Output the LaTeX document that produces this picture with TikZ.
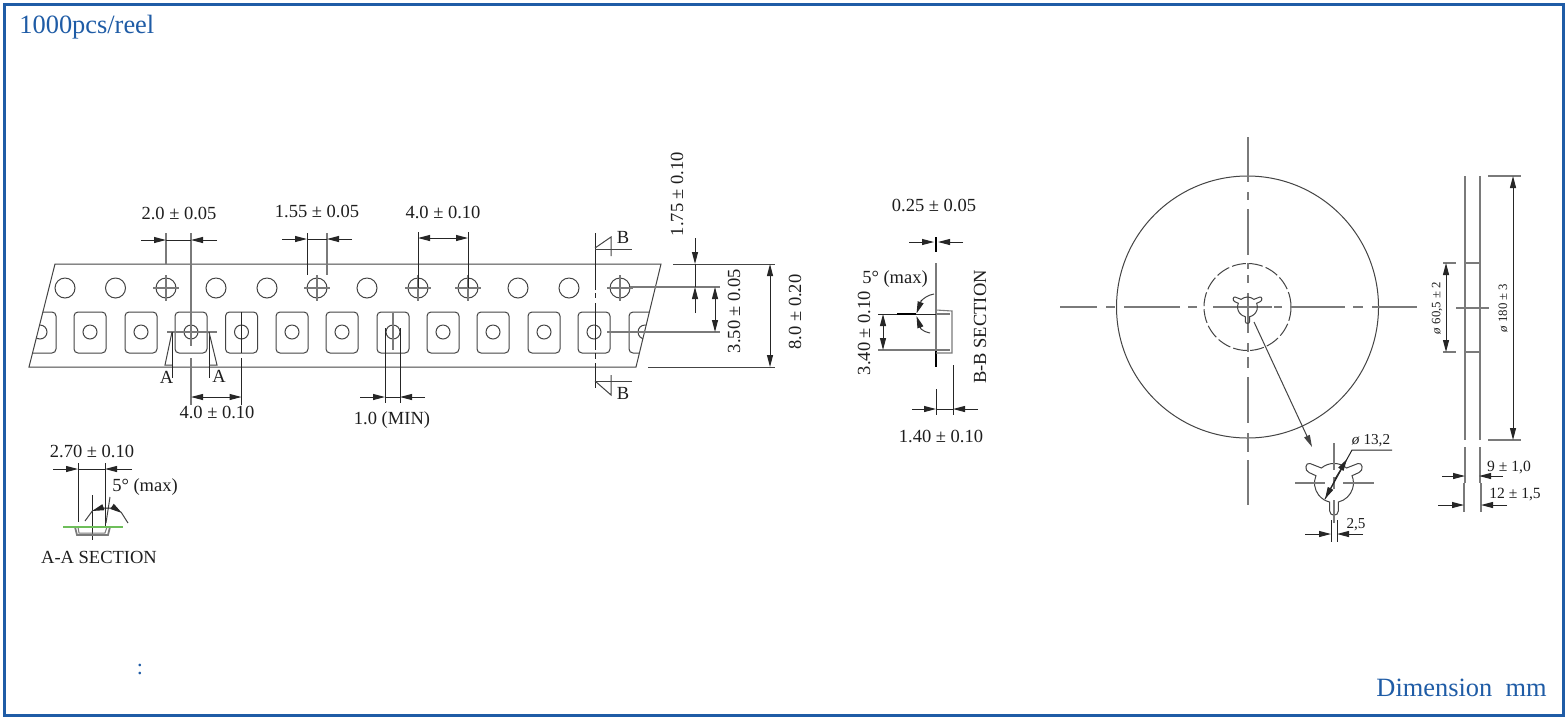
\documentclass[tikz,border=0pt]{standalone}
\usepackage{fontspec}
\setmainfont{Liberation Serif}
\usetikzlibrary{arrows.meta}
\definecolor{frameblue}{HTML}{1F5CA6}
\definecolor{inkgrey}{HTML}{444444}
\definecolor{midgrey}{HTML}{7A7A7A}
\definecolor{labelink}{HTML}{1E1E1E}
\newcommand\starshape{(4.3,19) arc (77:-22:19.5) -- (25,-10.5) .. controls (30,-12.5) and (28.5,-21) .. (24,-19.5) -- (12.5,-15) arc (-50:-130:19.5) -- (-24,-19.5) .. controls (-28.5,-21) and (-30,-12.5) .. (-25,-10.5) -- (-18.08,-7.3) arc (202:103:19.5) -- (-4.3,28) arc (180:0:4.3) -- cycle}
\tikzset{
  x=0.5pt,y=-0.5pt,
  thinl/.style={draw=inkgrey,line width=0.5pt},
  blackl/.style={draw=black!85,line width=0.5pt},
  greyl/.style={draw=midgrey,line width=0.55pt},
  thickgrey/.style={draw=midgrey,line width=1.3pt},
  tipto/.style={-{Triangle[length=6pt,width=3pt]},draw=black!85,line width=0.5pt},
  tipboth/.style={{Triangle[length=6pt,width=3pt]}-{Triangle[length=6pt,width=3pt]},draw=black!85,line width=0.5pt},
  lab/.style={font=\fontsize{9.25}{11}\selectfont,text=labelink,inner sep=0pt},
  labsm/.style={font=\fontsize{7.8}{9}\selectfont,text=labelink,inner sep=0pt},
  labxs/.style={font=\fontsize{6.4}{8}\selectfont,text=labelink,inner sep=0pt},
  bluetxt/.style={font=\fontsize{13.2}{15}\selectfont,text=frameblue,inner sep=0pt},
}
\begin{document}
\begin{tikzpicture}
\useasboundingbox (0,0) rectangle (1567,719);
\fill[white] (0,0) rectangle (1567,719);
\draw[frameblue,line width=1.5pt] (4,4) rectangle (1563,715);
\node[bluetxt,anchor=west] (title) at (19,27) {1000pcs/reel};
\node[bluetxt,anchor=east] (unit) at (1547,688) {Dimension\hspace{0.25em} mm};
\node[bluetxt,font=\fontsize{11}{13}\selectfont] (colon) at (140,669) {:};

% ---------- tape ----------
\draw[thinl] (55,264) -- (661,264) -- (636,367) -- (29,367) -- cycle;
\foreach \x in {65,115.5,166,216,267,317,367,418,468,518,569,620}
  \draw[thinl] (\x,288) circle (10);
\begin{scope}
  \clip (55,264) -- (661,264) -- (636,367) -- (29,367) -- cycle;
  \foreach \x in {40,90,141,191,241.5,292,342,393,443,493,544,594,645}{
    \draw[thinl,rounded corners=2pt] (\x-16,312) rectangle (\x+16,353);
    \draw[thinl] (\x,332) circle (7);
  }
\end{scope}
% sprocket centre marks
\foreach \x in {166,317,418,468,620}{
  \draw[greyl] (\x-13,288) -- (\x+13,288);
  \draw[greyl] (\x,275) -- (\x,301);
}
% dim 2.0
\draw[greyl] (166,233) -- (166,264);
\draw[greyl] (191,233) -- (191,320);
\draw[blackl] (166,240) -- (191,240);
\draw[tipto] (141,240) -- (166,240);
\draw[tipto] (217,240) -- (191,240);
\node[lab] (d20) at (179,213) {2.0 ± 0.05};
% dim 1.55
\draw[blackl] (307,233) -- (307,275);
\draw[greyl] (327,233) -- (327,275);
\draw[blackl] (307,239) -- (327,239);
\draw[tipto] (282,239) -- (307,239);
\draw[tipto] (352,239) -- (327,239);
\node[lab] (d155) at (317,211) {1.55 ± 0.05};
% dim 4.0 top
\draw[blackl] (418,232) -- (418,288);
\draw[blackl] (468,232) -- (468,288);
\draw[tipboth] (418,238) -- (468,238);
\node[lab] (d40t) at (443,212) {4.0 ± 0.10};
% pocket 191 + A-A
\draw[greyl] (167,332) -- (217,332);
\draw[greyl] (191,320) -- (191,346);
\draw[greyl] (191,358) -- (191,405);
\draw[blackl] (241.5,312) -- (241.5,353);
\draw[blackl] (241.5,358) -- (241.5,405);
\draw[tipboth] (191,397) -- (241.5,397);
\node[lab] (d40b) at (217,412) {4.0 ± 0.10};
\draw[blackl] (172,332) -- (172,378);
\draw[thinl] (172,332) -- (165,365) -- (172,365);
\draw[blackl] (209,332) -- (209,378);
\draw[thinl] (209,332) -- (217,365) -- (209,365);
\node[lab] (aL) at (166.5,377) {A};
\node[lab] (aR) at (219,376) {A};
% dim 1.0 MIN
\draw[greyl] (393,313) -- (393,350);
\draw[blackl] (385,328) -- (385,403);
\draw[blackl] (400,328) -- (400,403);
\draw[blackl] (385,397) -- (400,397);
\draw[tipto] (360,397) -- (385,397);
\draw[tipto] (425,397) -- (400,397);
\node[lab] (d10) at (392,420) {1.0 (MIN)};
% B-B cutting line
\foreach \a/\b in {233/290,293/298,303/350,353/359,363/388}
  \draw[blackl] (595,\a) -- (595,\b);
\draw[thinl] (595,248) -- (611,237) -- (611,256);
\draw[thinl] (595,249) -- (632,249);
\draw[thinl] (595,381) -- (632,381);
\draw[thinl] (611,375) -- (611,395) -- (595,381);
\node[lab] (bT) at (623,237) {B};
\node[lab] (bB) at (623,393) {B};
% right hand dims
\draw[thinl] (673,264) -- (775,264);
\draw[thinl] (648,367) -- (775,367);
\draw[greyl] (630,287) -- (720,287);
\draw[greyl] (607,332) -- (720,332);
\draw[blackl] (695,264) -- (695,287);
\draw[tipto] (695,238) -- (695,264);
\draw[tipto] (695,313) -- (695,287);
\draw[tipboth] (715,287) -- (715,332);
\draw[tipboth] (770,264) -- (770,367);
\node[lab,rotate=90] (d175) at (677,194) {1.75 ± 0.10};
\node[lab,rotate=90] (d350) at (734,311) {3.50 ± 0.05};
\node[lab,rotate=90] (d80) at (795,312) {8.0 ± 0.20};

% ---------- A-A section ----------
\draw[blackl] (78,463) -- (78,522);
\draw[blackl] (105,463) -- (105,528);
\draw[blackl] (78,469) -- (105,469);
\draw[tipto] (53,469) -- (78,469);
\draw[tipto] (132,469) -- (105,469);
\node[lab] (d270) at (92,451) {2.70 ± 0.10};
\draw[blackl] (92,495) -- (92,540);
\draw[thinl] (85,521) -- (93,510);
\draw[thinl] (110,497) -- (106,523);
\draw[tipto] (107,508) .. controls (102,508) and (98,509) .. (92,511);
\draw[tipto] (107,508) .. controls (112,508) and (116,509) .. (122,513);
\draw[thinl] (121,512) -- (128,523);
\draw[draw=midgrey,line width=0.9pt] (75,527) -- (77,535) -- (108,535) -- (110,527);
\draw[draw=midgrey,line width=0.5pt] (78,527) -- (79,533) -- (105,533) -- (107,527);
\draw[draw={rgb,255:red,110;green,190;blue,90},line width=0.55pt] (63,527) -- (123,527);
\node[lab] (m5a) at (145,487) {5° (max)};
\node[lab] (aasec) at (99,557) {A-A SECTION};

% ---------- B-B section ----------
\draw[tipto] (909,242) -- (934,242);
\draw[tipto] (963,242) -- (938,242);
\draw[draw=black,line width=0.9pt] (936,237) -- (936,252);
\node[lab] (d025) at (934,205) {0.25 ± 0.05};
\draw[thickgrey] (936,263) -- (936,310);
\draw[greyl] (936,310) -- (936,350);
\draw[draw=black,line width=0.9pt] (936,350) -- (936,367);
\draw[greyl] (936,310) -- (952,311) -- (952,353) -- (936,353);
\draw[blackl] (878,314) -- (936,314);
\draw[greyl] (936,314) -- (950,314);
\draw[greyl] (878,350) -- (950,350);
\draw[tipboth] (883,314) -- (883,350);
\node[lab,rotate=90] (d340) at (864,333) {3.40 ± 0.10};
\node[lab] (m5b) at (895,279) {5° (max)};
\draw[thinl] (934,294) .. controls (928,295) and (924,298) .. (921,301);
\draw[tipto] (921.5,300) -- (916.5,313.5);
\draw[tipto] (921,329) -- (916.5,316);
\draw[thinl] (921,329) .. controls (923,331) and (926,332) .. (930,333);
\draw[draw=black,line width=0.8pt] (897,314) -- (916,314);
\node[lab,rotate=90] (bbsec) at (980,327) {B-B SECTION};
\draw[blackl] (936,389) -- (936,415);
\draw[blackl] (953,365) -- (953,415);
\draw[blackl] (936,409) -- (953,409);
\draw[tipto] (912,409) -- (936,409);
\draw[tipto] (978,409) -- (953,409);
\node[lab] (d140) at (941,436) {1.40 ± 0.10};

% ---------- reel, front ----------
\draw[thinl] (1247.5,307) circle (131);
\draw[thinl,dash pattern=on 7pt off 1.6pt] (1247.5,307) circle (43.5);
\foreach \a/\b in {137/182,192/200,209/255,263/269,275/283,293/333,343/352,357/368,377/423,433/452,460/505}
  \draw[greyl] (1248,\a) -- (1248,\b);
\foreach \a/\b in {1060/1097,1106/1115,1124/1180,1188/1197,1213/1272,1274/1282,1290/1345,1353/1363,1372/1417}
  \draw[greyl] (\a,307) -- (\b,307);
\draw[thinl,shift={(1247.5,307)},scale=0.51] \starshape;
\coordinate (holeout) at (1254,322);
\coordinate (holetip) at (1312,447);
\draw[tipto,draw=inkgrey] (holeout) -- (holetip);

% ---------- enlarged hole ----------
\draw[thinl,shift={(1334,483)}] \starshape;
\draw[greyl] (1295,483) -- (1325,483);
\draw[greyl] (1343,483) -- (1374,483);
\draw[greyl] (1334,443) -- (1334,470);
\draw[greyl] (1334,477) -- (1334,489);
\draw[greyl] (1334,500) -- (1334,523);
\draw[blackl] (1392,450) -- (1352,450) -- (1325,499);
\draw[tipto] (1337,476) -- (1325,499);
\draw[tipto] (1335,479) -- (1347,459);
\node[labxs,font=\fontsize{7.6}{9}\selectfont] (d132) at (1371,441) {\textit{ø} 13,2};
\draw[blackl] (1331,520) -- (1331,542);
\draw[blackl] (1337,520) -- (1337,542);
\draw[tipto] (1305,534) -- (1331,534);
\draw[tipto] (1363,534) -- (1337,534);
\node[labxs,font=\fontsize{7.6}{9}\selectfont] (d25) at (1356,525) {2,5};

% ---------- reel, side ----------
\draw[thickgrey] (1465,176) -- (1465,440);
\draw[thickgrey] (1480,176) -- (1480,440);
\draw[greyl] (1466,263) -- (1479,263);
\draw[greyl] (1466,352) -- (1479,352);
\draw[greyl] (1443,263) -- (1456,263);
\draw[greyl] (1443,352) -- (1456,352);
\draw[greyl] (1456,308) -- (1489,308);
\draw[greyl] (1488,176) -- (1521,176);
\draw[greyl] (1488,440) -- (1521,440);
\draw[tipboth] (1446,263) -- (1446,352);
\draw[tipboth] (1513,176) -- (1513,440);
\node[labxs,rotate=90] (d605) at (1437,308) {\textit{ø} 60,5 ± 2};
\node[labxs,rotate=90] (d180) at (1503,308) {\textit{ø} 180 ± 3};
\draw[thickgrey] (1465,447) -- (1465,483);
\draw[thickgrey] (1480,447) -- (1480,483);
\draw[greyl] (1464,483) -- (1464,512);
\draw[greyl] (1481,483) -- (1481,512);
\draw[tipto] (1442,476) -- (1465,476);
\draw[tipto] (1503,476) -- (1479,476);
\node[labsm] (d9) at (1509,467) {9 ± 1,0};
\draw[tipto] (1438,505) -- (1464,505);
\draw[tipto] (1507,505) -- (1481,505);
\node[labsm] (d12) at (1515,495) {12 ± 1,5};
\end{tikzpicture}
\end{document}
